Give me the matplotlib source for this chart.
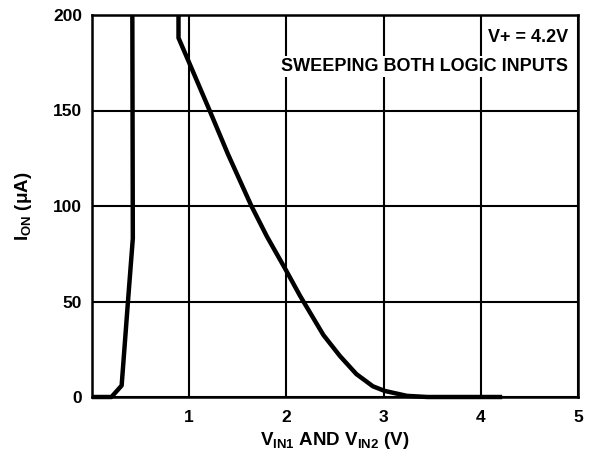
import matplotlib
matplotlib.use("Agg")
import matplotlib.pyplot as plt

plt.rcParams['font.family'] = ['Liberation Sans', 'DejaVu Sans']
plt.rcParams['font.weight'] = 'bold'
plt.rcParams['mathtext.fontset'] = 'custom'
plt.rcParams['mathtext.rm'] = 'Liberation Sans:bold'
plt.rcParams['mathtext.bf'] = 'Liberation Sans:bold'
plt.rcParams['mathtext.it'] = 'Liberation Sans:bold'

# turn-on branch (rising input)
v_rise = [0.0, 0.2, 0.305, 0.37, 0.42, 0.415]
i_rise = [0.0, 0.0, 6.0, 50.0, 83.0, 200.0]

# falling branch
v_fall = [0.89, 0.89, 1.0, 1.21, 1.4, 1.64, 1.8, 2.0, 2.14, 2.38, 2.55, 2.72, 2.89, 3.01, 3.24, 3.45, 4.22]
i_fall = [200, 188, 175, 150, 127, 100, 84, 66, 53, 32.5, 21.5, 12, 5.6, 3.2, 0.6, 0, 0]

xticks = [1, 2, 3, 4, 5]
yticks = [0, 50, 100, 150, 200]

fig = plt.figure(figsize=(5.93, 4.54), dpi=100)
ax = fig.add_axes([92/593, 1 - 397/454, (578-92)/593, (397-15)/454])

ax.plot(v_rise, i_rise, color='black', lw=3.2, solid_capstyle='butt',
        solid_joinstyle='round', clip_on=False, zorder=3)
ax.plot(v_fall, i_fall, color='black', lw=3.2, solid_capstyle='butt',
        solid_joinstyle='round', clip_on=False, zorder=3)

ax.set_xlim(0, 5)
ax.set_ylim(0, 200)
ax.set_xticks(xticks)
ax.set_yticks(yticks)
ax.tick_params(axis='y', length=0, labelsize=12.5, pad=7)
ax.tick_params(axis='x', length=0, labelsize=12.5, pad=9)
ax.grid(True, color='black', lw=1.5)
for s in ax.spines.values():
    s.set_linewidth(1.8)

ax.set_xlabel(r'V$_{\mathrm{IN1}}$ AND V$_{\mathrm{IN2}}$ (V)', fontsize=13.5, fontweight='bold', labelpad=4)
ax.set_ylabel(r'I$_{\mathrm{ON}}$ ($\mathrm{\mu}$A)', fontsize=13.5, fontweight='bold', labelpad=14)

bbox = dict(facecolor='white', edgecolor='none', pad=1.5)
ax.text(4.9, 188, 'V+ = 4.2V', ha='right', va='center',
        fontsize=13, fontweight='bold', bbox=bbox, zorder=4)
ax.text(4.9, 173, 'SWEEPING BOTH LOGIC INPUTS', ha='right', va='center',
        fontsize=13, fontweight='bold', bbox=bbox, zorder=4)

fig.savefig('out.png', dpi=100)
